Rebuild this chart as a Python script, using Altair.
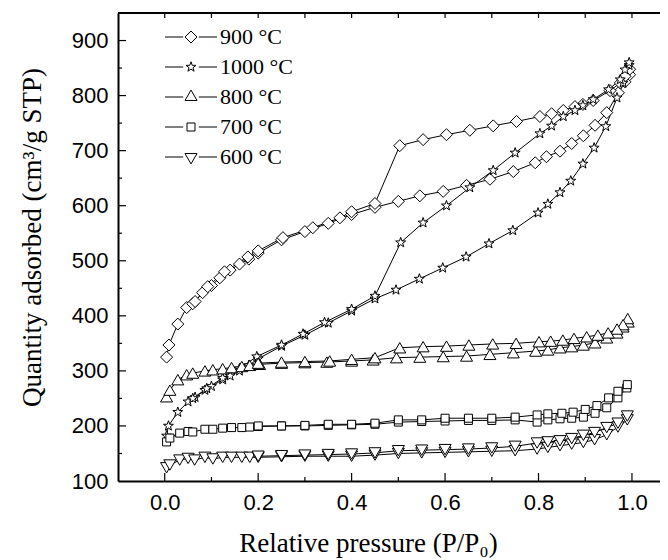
import math
import pandas as pd
import altair as alt

# ---------------- data ----------------
series_names = ["900 °C", "1000 °C", "800 °C", "700 °C", "600 °C"]

# 900 °C (diamonds)
p900_ads = [0.004, 0.009, 0.028, 0.047, 0.06, 0.081, 0.1, 0.118, 0.14, 0.16, 0.18, 0.2, 0.25, 0.3, 0.35, 0.4, 0.45,
            0.5, 0.546, 0.596, 0.646, 0.696, 0.746, 0.793, 0.817, 0.846, 0.871, 0.896, 0.921, 0.946, 0.971, 0.985, 0.995]
v900_ads = [325, 347, 385, 415, 422, 442, 455, 469, 483, 494, 503, 514, 538, 553, 568, 584, 597,
            608, 618, 626, 637, 648, 662, 678, 689, 699, 713, 727, 746, 769, 805, 825, 838]
p900_des = [0.995, 0.985, 0.975, 0.953, 0.917, 0.895, 0.878, 0.853, 0.828, 0.803, 0.753, 0.703, 0.653, 0.603, 0.553,
            0.503, 0.45, 0.4, 0.375, 0.317, 0.253, 0.2, 0.178, 0.128, 0.092, 0.065]
v900_des = [848, 835, 823, 809, 791, 784, 780, 773, 767, 762, 753, 745, 737, 729, 720,
            709, 604, 589, 578, 560, 542, 518, 507, 480, 453, 426]

# 1000 °C (stars)
p1000_ads = [0.004, 0.008, 0.028, 0.05, 0.065, 0.086, 0.1, 0.124, 0.14, 0.16, 0.18, 0.2, 0.25, 0.3, 0.35, 0.4, 0.45,
             0.495, 0.545, 0.595, 0.645, 0.694, 0.745, 0.799, 0.82, 0.846, 0.869, 0.895, 0.919, 0.944, 0.968, 0.981, 0.994]
v1000_ads = [182, 200, 225, 244, 252, 265, 272, 284, 291, 300, 310, 322, 345, 365, 387, 409, 431,
             447, 467, 487, 507, 531, 555, 587, 603, 624, 645, 676, 705, 744, 796, 823, 855]
p1000_des = [0.994, 0.985, 0.975, 0.95, 0.917, 0.895, 0.878, 0.853, 0.828, 0.803, 0.75, 0.703, 0.653, 0.603, 0.553,
             0.505, 0.45, 0.4, 0.342, 0.296, 0.25, 0.197, 0.16, 0.124, 0.09, 0.06]
v1000_des = [860, 847, 829, 811, 793, 782, 773, 762, 745, 731, 696, 664, 633, 600, 569,
             533, 436, 412, 388, 367, 347, 326, 304, 287, 268, 250]

# 800 °C (up triangles)
p800_ads = [0.004, 0.011, 0.028, 0.047, 0.06, 0.086, 0.103, 0.124, 0.143, 0.165, 0.182, 0.203, 0.25, 0.3, 0.347, 0.4,
            0.446, 0.496, 0.546, 0.596, 0.646, 0.696, 0.746, 0.794, 0.82, 0.846, 0.871, 0.896, 0.921, 0.946, 0.968,
            0.981, 0.992]
v800_ads = [253, 265, 284, 293, 296, 300, 302, 304, 306, 308, 310, 312, 314, 315, 316, 318,
            320, 324, 325, 326, 327, 330, 333, 336, 338, 342, 344, 347, 351, 360, 369, 380, 389]
p800_des = [0.991, 0.981, 0.968, 0.949, 0.927, 0.903, 0.876, 0.852, 0.826, 0.801, 0.752, 0.702, 0.651, 0.603, 0.553,
            0.503, 0.45, 0.4, 0.353, 0.3, 0.25, 0.2]
v800_des = [395, 384, 376, 369, 365, 362, 359, 356, 354, 353, 350, 349, 347, 345, 344,
            342, 324, 321, 318, 317, 316, 314]

# 700 °C (squares)
p700_ads = [0.004, 0.011, 0.032, 0.05, 0.06, 0.086, 0.103, 0.124, 0.143, 0.165, 0.182, 0.2, 0.25, 0.3, 0.35, 0.4, 0.45,
            0.5, 0.55, 0.6, 0.65, 0.7, 0.75, 0.797, 0.82, 0.846, 0.871, 0.896, 0.921, 0.946, 0.97, 0.989]
v700_ads = [171, 178, 187, 190, 189, 194, 194, 196, 197, 197, 198, 199, 200, 200, 201, 202, 203,
            207, 208, 209, 210, 210, 211, 207, 211, 213, 214, 216, 223, 233, 251, 269]
p700_des = [0.99, 0.97, 0.95, 0.925, 0.9, 0.874, 0.85, 0.82, 0.797, 0.75, 0.7, 0.65, 0.6, 0.55, 0.5, 0.45, 0.4,
            0.35, 0.3, 0.25, 0.2]
v700_des = [275, 263, 251, 237, 230, 225, 223, 222, 220, 216, 214, 214, 214, 211, 211, 205, 203,
            203, 201, 200, 200]

# 600 °C (down triangles)
p600_ads = [0.004, 0.011, 0.032, 0.05, 0.064, 0.086, 0.103, 0.124, 0.143, 0.165, 0.182, 0.2, 0.25, 0.3, 0.35, 0.4,
            0.45, 0.5, 0.55, 0.6, 0.65, 0.7, 0.75, 0.797, 0.82, 0.846, 0.871, 0.896, 0.92, 0.946, 0.97, 0.99]
v600_ads = [124, 129, 138, 141, 138, 143, 140, 143, 143, 143, 143, 143, 144, 145, 145, 145,
            147, 150, 151, 152, 153, 154, 155, 158, 161, 164, 167, 170, 175, 184, 198, 211]
p600_des = [0.99, 0.97, 0.946, 0.92, 0.896, 0.871, 0.846, 0.82, 0.797, 0.75, 0.7, 0.65, 0.6, 0.55, 0.5, 0.45, 0.4,
            0.35, 0.3, 0.25, 0.2]
v600_des = [218, 205, 197, 188, 183, 177, 173, 171, 169, 163, 160, 158, 157, 156, 155, 151, 149,
            148, 147, 146, 145]

x_major = [0.0, 0.2, 0.4, 0.6, 0.8, 1.0]
x_minor = [0.1, 0.3, 0.5, 0.7, 0.9]
y_labels = [100, 200, 300, 400, 500, 600, 700, 800, 900]
y_major = [200, 300, 400, 500, 600, 700, 800, 900]
y_minor = [150, 250, 350, 450, 550, 650, 750, 850]

# ---------------- table ----------------
all_series = {
    "900 °C": (p900_ads + p900_des, v900_ads + v900_des),
    "1000 °C": (p1000_ads + p1000_des, v1000_ads + v1000_des),
    "800 °C": (p800_ads + p800_des, v800_ads + v800_des),
    "700 °C": (p700_ads + p700_des, v700_ads + v700_des),
    "600 °C": (p600_ads + p600_des, v600_ads + v600_des),
}
rows = []
for name, (ps, vs) in all_series.items():
    for i, (p, v) in enumerate(zip(ps, vs)):
        rows.append({"series": name, "P": p, "V": v, "idx": i})
df = pd.DataFrame(rows)

# ---------------- shapes ----------------
def poly(pts, s=1.0):
    return "M" + "L".join(f"{x * s:.3f},{y * s:.3f}" for x, y in pts) + "Z"

star_pts = []
for k in range(10):
    r = 1.0 if k % 2 == 0 else 0.4
    a = math.radians(-90 + 36 * k)
    star_pts.append((r * math.cos(a), r * math.sin(a)))
star_path = poly(star_pts)

data_shapes = ["diamond", star_path, "triangle-up", "square", "triangle-down"]
data_sizes = [144, 110, 144, 64, 144]

dash = "M-4.33,0L-1.3,0M1.3,0L4.33,0"
legend_paths = [
    dash + poly([(-1, 0), (0, -1), (1, 0), (0, 1)]),
    dash + poly(star_pts, 0.874),
    dash + poly([(0, -1.155), (1, 0.577), (-1, 0.577)]),
    dash + poly([(-0.667, -0.667), (0.667, -0.667), (0.667, 0.667), (-0.667, 0.667)]),
    dash + poly([(0, 1.155), (1, -0.577), (-1, -0.577)]),
]

# ---------------- chart ----------------
W, H = 542, 468
xscale = alt.Scale(domain=[-0.1, 1.06], nice=False, zero=False)
yscale = alt.Scale(domain=[100, 950], nice=False, zero=False)
SANS = "Liberation Sans"
SERIF = "Liberation Serif"

x_axis = alt.Axis(values=x_major, format=".1f", title="Relative pressure (P/P₀)", grid=False,
                  ticks=False, tickSize=0, domainColor="black", domainWidth=2,
                  labelFont=SANS, labelFontSize=22, labelColor="black", labelPadding=11,
                  titleFont=SERIF, titleFontSize=27, titleFontWeight="normal", titleColor="black",
                  titleX=250, titleY=70, titleBaseline="alphabetic", titleAlign="center")
y_axis = alt.Axis(values=y_labels, title="Quantity adsorbed (cm³/g STP)", grid=False,
                  ticks=False, tickSize=0, domainColor="black", domainWidth=2,
                  labelFont=SANS, labelFontSize=22, labelColor="black", labelPadding=10,
                  titleFont=SERIF, titleFontSize=27, titleFontWeight="normal", titleColor="black",
                  titleX=-86, titleY=224, titleAngle=-90, titleAlign="center", titleBaseline="middle")

X = alt.X("P:Q", scale=xscale, axis=x_axis)
Y = alt.Y("V:Q", scale=yscale, axis=y_axis)

base = alt.Chart(df)

lines = base.mark_line(color="black", strokeWidth=1).encode(
    x=X, y=Y, detail="series:N", order="idx:Q",
)

point_layers = []
for name, shp, sz in zip(series_names, data_shapes, data_sizes):
    point_layers.append(
        base.transform_filter(alt.datum.series == name).mark_point(
            shape=shp, size=sz, filled=True, fill="white", stroke="black", strokeWidth=1, opacity=1
        ).encode(x=X, y=Y)
    )

legend_layer = base.transform_filter("false").mark_point(
    filled=False, color="black", stroke="black", strokeWidth=1, opacity=1
).encode(
    x=X, y=Y,
    shape=alt.Shape("series:N", scale=alt.Scale(domain=series_names, range=legend_paths),
                    legend=alt.Legend(title=None, orient="none", legendX=62, legendY=13,
                                      labelFont=SERIF, labelFontSize=22, labelColor="black",
                                      symbolSize=144, symbolStrokeWidth=1, symbolStrokeColor="black",
                                      symbolOpacity=1, labelOffset=18, rowPadding=8,
                                      padding=0)),
)

def tick_layer(vals, axis, length, at_top=False):
    d = pd.DataFrame({"P": vals, "V": vals})
    ch = alt.Chart(d).mark_rule(color="black", strokeWidth=1.2)
    if axis == "x":
        if at_top:
            return ch.encode(x=X, y=alt.value(0), y2=alt.value(length))
        return ch.encode(x=X, y=alt.value(H), y2=alt.value(H - length))
    return ch.encode(y=Y, x=alt.value(0), x2=alt.value(length))

ticks = [
    tick_layer(x_major, "x", 8),
    tick_layer(x_minor, "x", 4),
    tick_layer(x_major + x_minor, "x", 5, at_top=True),
    tick_layer(y_major, "y", 8),
    tick_layer(y_minor, "y", 4),
]

top_border = alt.Chart(pd.DataFrame({"a": [0]})).mark_rule(color="black", strokeWidth=2).encode(
    x=alt.value(0), x2=alt.value(W), y=alt.value(0)
)

chart = alt.layer(lines, *point_layers, legend_layer, *ticks, top_border).properties(
    width=W, height=H,
    autosize=alt.AutoSizeParams(type="none"),
    padding={"left": 110, "top": 5, "right": 0, "bottom": 80},
).configure_view(stroke=None)

chart.save("out.html", embed_options={"renderer": "svg", "actions": False})
